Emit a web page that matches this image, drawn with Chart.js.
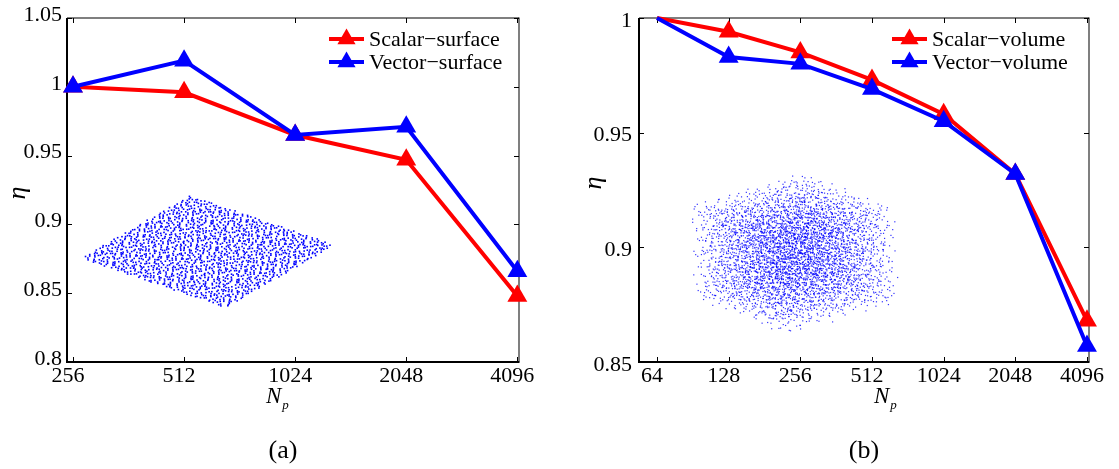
<!DOCTYPE html>
<html><head><meta charset="utf-8">
<script src="https://cdn.jsdelivr.net/npm/chart.js@4.4.0/dist/chart.umd.min.js"></script>
<style>
html,body{margin:0;padding:0;background:#fff;width:1119px;height:469px;overflow:hidden}
#wa{position:absolute;left:0;top:0;width:560px;height:469px}
#wb{position:absolute;left:560px;top:0;width:559px;height:469px}
</style></head><body>
<div id="wa"><canvas id="ca" width="560" height="469"></canvas></div>
<div id="wb"><canvas id="cb" width="559" height="469"></canvas></div>
<script>
// ---- data (a) ----
const npA = [256, 512, 1024, 2048, 4096];
const xLabelsA = ['256', '512', '1024', '2048', '4096'];
const scalarSurface = [1.000, 0.996, 0.965, 0.947, 0.848];
const vectorSurface = [1.000, 1.019, 0.965, 0.971, 0.866];
const yTicksA = [0.8, 0.85, 0.9, 0.95, 1, 1.05];
const yLabelsA = ['0.8', '0.85', '0.9', '0.95', '1', '1.05'];
// ---- data (b) ----
const npB = [64, 128, 256, 512, 1024, 2048, 4096];
const xLabelsB = ['64', '128', '256', '512', '1024', '2048', '4096'];
const scalarVolume = [1.000, 0.994, 0.985, 0.973, 0.958, 0.932, 0.868];
const vectorVolume = [1.000, 0.983, 0.980, 0.969, 0.955, 0.932, 0.857];
const yTicksB = [0.85, 0.9, 0.95, 1];
const yLabelsB = ['0.85', '0.9', '0.95', '1'];

const SERIF = '"Liberation Serif","Times New Roman",serif';
const RED = '#ff0000', BLUE = '#0000ff';

function halton(i, b) { let f = 1, r = 0; while (i > 0) { f /= b; r += f * (i % b); i = Math.floor(i / b); } return r; }

function tri(ctx, x, y, r, color) {
  ctx.save(); ctx.fillStyle = color; ctx.beginPath();
  ctx.moveTo(x, y - r);
  ctx.lineTo(x + r * Math.sin(2 * Math.PI / 3), y - r * Math.cos(2 * Math.PI / 3));
  ctx.lineTo(x + r * Math.sin(4 * Math.PI / 3), y - r * Math.cos(4 * Math.PI / 3));
  ctx.closePath(); ctx.fill(); ctx.restore();
}

function makeChart(id, cfg) {
  const pts = (xs, ys) => xs.map((x, i) => ({ x: x, y: ys[i] }));
  const deco = {
    id: 'deco',
    beforeDatasetsDraw(chart) {
      const ctx = chart.ctx, a = chart.chartArea, xs = chart.scales.x, ys = chart.scales.y;
      ctx.save();
      cfg.inset(ctx, xs, ys);
      ctx.fillStyle = '#000';
      ctx.fillRect(a.left - 1, a.top, 2, a.bottom - a.top + 1);
      ctx.fillRect(a.left - 1, a.bottom - 1, a.right - a.left + 1.5, 2);
      ctx.fillRect(a.left, a.top - 0.5, a.right - a.left, 1);
      ctx.fillRect(a.right - 0.5, a.top - 0.5, 1, a.bottom - a.top);
      ctx.strokeStyle = '#000'; ctx.lineWidth = 1; ctx.beginPath();
      cfg.np.forEach(v => { const px = Math.round(xs.getPixelForValue(v)) + 0.5;
        ctx.moveTo(px, a.bottom); ctx.lineTo(px, a.bottom - 5);
        ctx.moveTo(px, a.top); ctx.lineTo(px, a.top + 5); });
      cfg.yTicks.forEach(v => { const py = Math.round(ys.getPixelForValue(v)) + 0.5;
        ctx.moveTo(a.left, py); ctx.lineTo(a.left + 5, py);
        ctx.moveTo(a.right, py); ctx.lineTo(a.right - 5, py); });
      ctx.stroke();
      ctx.restore();
    },
    afterDraw(chart) {
      const ctx = chart.ctx;
      ctx.save();
      cfg.legend.forEach((it, i) => {
        const y = cfg.legY + i * 23;
        ctx.strokeStyle = it.c; ctx.lineWidth = 4;
        ctx.beginPath(); ctx.moveTo(cfg.legX, y); ctx.lineTo(cfg.legX + 35, y); ctx.stroke();
        tri(ctx, cfg.legX + 17.5, y, 10.5, it.c);
        ctx.fillStyle = '#000'; ctx.font = '22px ' + SERIF; ctx.textBaseline = 'middle'; ctx.textAlign = 'left';
        ctx.fillText(it.t, cfg.legX + 40, y + 1);
      });
      ctx.save(); ctx.translate(cfg.etaX, cfg.etaY); ctx.rotate(-Math.PI / 2);
      ctx.font = 'italic 26px ' + SERIF; ctx.textAlign = 'center'; ctx.textBaseline = 'middle'; ctx.fillStyle = '#000';
      ctx.fillText('η', 0, 0); ctx.restore();
      ctx.fillStyle = '#000'; ctx.textBaseline = 'alphabetic'; ctx.textAlign = 'left';
      ctx.font = 'italic 23px ' + SERIF; ctx.fillText('N', cfg.nX, 403);
      const w = ctx.measureText('N').width;
      ctx.font = 'italic 13px ' + SERIF; ctx.fillText('p', cfg.nX + w + 1, 409);
      ctx.font = '26px ' + SERIF; ctx.textAlign = 'center'; ctx.fillText(cfg.cap, cfg.capX, 458);
      ctx.restore();
    }
  };
  return new Chart(document.getElementById(id), {
    type: 'line',
    data: { datasets: [
      { label: cfg.legend[0].t, data: pts(cfg.np, cfg.s1), borderColor: RED, backgroundColor: RED, borderWidth: 4,
        pointStyle: 'triangle', pointRadius: cfg.pr, pointBorderWidth: 0, pointBackgroundColor: RED, clip: false, order: 2, tension: 0 },
      { label: cfg.legend[1].t, data: pts(cfg.np, cfg.s2), borderColor: BLUE, backgroundColor: BLUE, borderWidth: 4,
        pointStyle: 'triangle', pointRadius: cfg.pr, pointBorderWidth: 0, pointBackgroundColor: BLUE, clip: false, order: 1, tension: 0 }
    ] },
    options: {
      responsive: false, animation: false, events: [],
      layout: { padding: { left: 0, top: cfg.padTop, right: cfg.padRight, bottom: 0 } },
      plugins: { legend: { display: false }, tooltip: { enabled: false } },
      scales: {
        x: { type: 'logarithmic', min: cfg.xmin, max: cfg.xmax,
          afterBuildTicks: s => { s.ticks = cfg.np.map(v => ({ value: v })); },
          afterFit: s => { s.height = 469 - cfg.bottom; },
          grid: { display: false, drawTicks: false }, border: { display: false },
          ticks: { autoSkip: false, maxRotation: 0, minRotation: 0, padding: 3, labelOffset: -5, color: '#000',
            font: { family: SERIF, size: 22, lineHeight: 1 },
            callback: (v) => cfg.xLabels[cfg.np.indexOf(v)] } },
        y: { type: 'linear', min: cfg.yTicks[0], max: cfg.yTicks[cfg.yTicks.length - 1],
          afterBuildTicks: s => { s.ticks = cfg.yTicks.map(v => ({ value: v })); },
          afterFit: s => { s.width = cfg.left; },
          grid: { display: false, drawTicks: false }, border: { display: false },
          ticks: { autoSkip: false, padding: cfg.yPad, labelOffset: cfg.yOff, color: '#000',
            font: { family: SERIF, size: 22, lineHeight: 1 },
            callback: (v) => { const i = cfg.yTicks.findIndex(t => Math.abs(t - v) < 1e-9); return i >= 0 ? cfg.yLabels[i] : ''; } } }
      }
    },
    plugins: [deco]
  });
}

// decorative inset (a): a planar sample of surface points, anchored in data coordinates
function insetA(ctx, xs, ys) {
  const P = (x, y) => [xs.getPixelForValue(x), ys.getPixelForValue(y)];
  const L = P(Math.pow(2, 8.07), 0.8754), T = P(Math.pow(2, 9.055), 0.921), B = P(Math.pow(2, 9.375), 0.8395);
  const a = [T[0] - L[0], T[1] - L[1]], b = [B[0] - L[0], B[1] - L[1]];
  ctx.fillStyle = BLUE;
  for (let i = 1; i <= 1700; i++) {
    const u = halton(i, 2), v = halton(i, 3);
    const x = L[0] + u * a[0] + v * b[0], y = L[1] + u * a[1] + v * b[1];
    ctx.fillRect(x - 0.8, y - 0.8, 1.6, 1.6);
  }
}
// decorative inset (b): a cubic volume of points, anchored in data coordinates
function insetB(ctx, xs, ys) {
  const P = (x, y) => [xs.getPixelForValue(x), ys.getPixelForValue(y)];
  const C = P(Math.pow(2, 7.918), 0.8975), T = P(Math.pow(2, 8.04), 0.9335),
        UR = P(Math.pow(2, 9.33), 0.9175), LR = P(Math.pow(2, 9.40), 0.8760);
  const p = [T[0] - C[0], T[1] - C[1]], r = [C[0] - UR[0], C[1] - UR[1]], q = [LR[0] - C[0], LR[1] - C[1]];
  const e1 = [p[0] + q[0], p[1] + q[1]], e2 = [p[0] + r[0], p[1] + r[1]], e3 = [q[0] + r[0], q[1] + r[1]];
  ctx.fillStyle = 'rgba(0,0,255,0.8)';
  for (let i = 1; i <= 4600; i++) {
    const u = halton(i, 2) - 0.5, v = halton(i, 3) - 0.5, w = halton(i, 5) - 0.5;
    const x = C[0] + u * e1[0] + v * e2[0] + w * e3[0], y = C[1] + u * e1[1] + v * e2[1] + w * e3[1];
    ctx.fillRect(x - 0.6, y - 0.6, 1.2, 1.2);
  }
}

makeChart('ca', {
  np: npA, xLabels: xLabelsA, s1: scalarSurface, s2: vectorSurface, yTicks: yTicksA, yLabels: yLabelsA,
  xmin: 256 * Math.pow(2, -0.054), xmax: 4096 * Math.pow(2, 0.015),
  left: 67, padRight: 41, padTop: 18, bottom: 362, yPad: 5, yOff: -3, pr: 11.5,
  legend: [{ t: 'Scalar−surface', c: RED }, { t: 'Vector−surface', c: BLUE }], legX: 329, legY: 39,
  etaX: 18, etaY: 193, nX: 266, cap: '(a)', capX: 283, inset: insetA
});
makeChart('cb', {
  np: npB, xLabels: xLabelsB, s1: scalarVolume, s2: vectorVolume, yTicks: yTicksB, yLabels: yLabelsB,
  xmin: 64 * Math.pow(2, -0.251), xmax: 4096 * Math.pow(2, 0.028),
  left: 79, padRight: 30, padTop: 18, bottom: 362, yPad: 7, yOff: 3, pr: [0, 11.5, 11.5, 11.5, 11.5, 11.5, 11.5],
  legend: [{ t: 'Scalar−volume', c: RED }, { t: 'Vector−volume', c: BLUE }], legX: 332, legY: 39,
  etaX: 34, etaY: 183, nX: 314, cap: '(b)', capX: 304, inset: insetB
});
</script>
</body></html>
